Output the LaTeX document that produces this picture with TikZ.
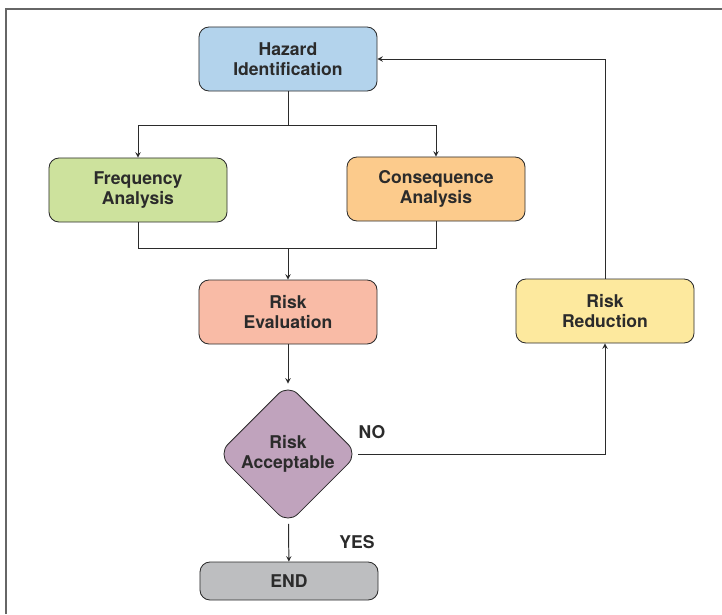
\documentclass[tikz,border=0pt]{standalone}
\usepackage{fontspec}
\setmainfont{TeX Gyre Heros}
\usepackage{xcolor}
\usetikzlibrary{shapes.geometric}

\definecolor{hazblue}{HTML}{B3D3EC}
\definecolor{freqgreen}{HTML}{CDE29D}
\definecolor{consorange}{HTML}{FCCB8C}
\definecolor{evalsalmon}{HTML}{F9BBA6}
\definecolor{redyellow}{HTML}{FDE99E}
\definecolor{accmauve}{HTML}{C0A3BD}
\definecolor{endgray}{HTML}{BDBEC0}
\definecolor{ink}{HTML}{2B2B2B}

\begin{document}
\begin{tikzpicture}[>=stealth, x=0.025cm, y=-0.025cm,
    every node/.style={font=\fontsize{12.5}{13.8}\selectfont\bfseries, text=ink},
    box/.style={draw=ink, line width=0.6pt, rounded corners=0.25cm, align=center,
        minimum width=4.45cm, minimum height=1.6cm, inner sep=2pt},
    decide/.style={draw=ink, line width=0.6pt, diamond, rounded corners=0.35cm,
        align=center, minimum size=3.5cm, inner sep=0pt, fill=accmauve},
    link/.style={draw=ink, line width=0.7pt}]
    \useasboundingbox (0, 0) rectangle (722, 614);
    \draw[gray!80!black, line width=1pt] (6, 614) -- (6, 9) -- (722, 9);

    \node[box, fill=hazblue] (hazard) at (288, 59) {Hazard\\Identification};
    \node[box, fill=freqgreen] (freq) at (138, 190) {Frequency\\Analysis};
    \node[box, fill=consorange] (conseq) at (436, 189) {Consequence\\Analysis};
    \node[box, fill=evalsalmon] (eval) at (288, 312) {Risk\\Evaluation};
    \node[box, fill=redyellow] (reduce) at (605, 311) {Risk\\Reduction};
    \node[decide] (accept) at (288, 454) {Risk\\Acceptable};
    \node[box, fill=endgray, minimum height=0.95cm] (finish) at (289, 581) {END};

    \coordinate (split) at (288, 125);
    \coordinate (merge) at (288, 248);

    \draw[link] (hazard) -- (split);
    \draw[link, ->] (split) -| (freq);
    \draw[link, ->] (split) -| (conseq);
    \draw[link] (freq) |- (merge);
    \draw[link] (conseq) |- (merge);
    \draw[link, ->] (merge) -- (eval);
    \draw[link, ->] (eval) -- (accept);
    \draw[link, ->] (accept) -| (reduce);
    \draw[link, ->] (reduce) |- (hazard);
    \draw[link, ->] (accept) -- (finish);

    \node (no) at (372, 432) {NO};
    \node (yes) at (357, 542) {YES};
\end{tikzpicture}
\end{document}
